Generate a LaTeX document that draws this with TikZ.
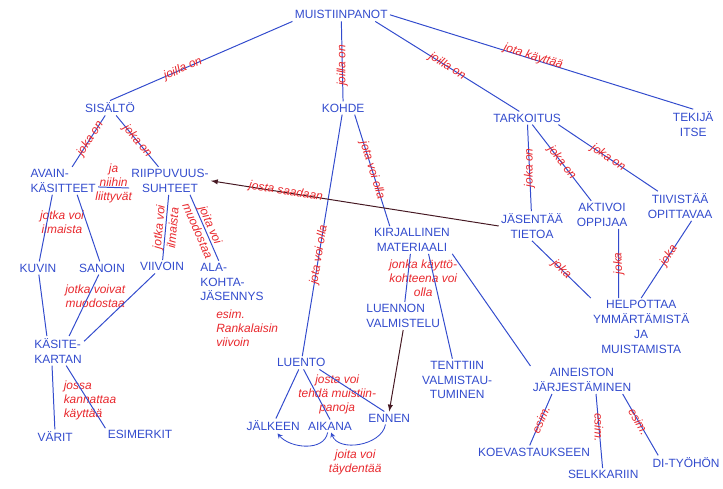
\documentclass[tikz,border=0pt]{standalone}
\usepackage{fontspec}
\setmainfont{Liberation Sans}
\usetikzlibrary{shapes,arrows,positioning}
\definecolor{pen}{RGB}{50,75,205}
\definecolor{punainen}{RGB}{232,40,45}
\definecolor{tumma}{RGB}{70,25,35}
\tikzstyle{cnode} = [text=pen, font=\fontsize{8.5}{10.5}\selectfont, inner sep=1.5pt, align=center]
\tikzstyle{rlabel} = [text=punainen, font=\fontsize{8.5}{10}\selectfont\itshape, inner sep=0.5pt, align=center]
\tikzstyle{line} = [draw, pen, line width=0.7pt]
\tikzstyle{darrow} = [draw, tumma, line width=0.7pt, -latex]
\tikzstyle{carrow} = [draw, pen, line width=0.6pt, -stealth]
\begin{document}
\begin{tikzpicture}
			\useasboundingbox (0,0) rectangle (18.075,12.2);
			\node [cnode] (muist) at (8.53, 11.83) {MUISTIINPANOT};
			\node [cnode] (sisalto) at (2.75, 9.50) {SISÄLTÖ};
			\node [cnode] (kohde) at (8.58, 9.50) {KOHDE};
			\node [cnode] (tark) at (13.18, 9.25) {TARKOITUS};
			\node [cnode] (tekija) at (17.33, 9.10) {TEKIJÄ\\ITSE};
			\node [cnode, align=left] (avain) at (1.58, 7.68) {AVAIN-\\KÄSITTEET};
			\node [cnode] (riipp) at (4.25, 7.68) {RIIPPUVUUS-\\SUHTEET};
			\node [cnode] (kuvin) at (0.95, 5.50) {KUVIN};
			\node [cnode] (sanoin) at (2.55, 5.50) {SANOIN};
			\node [cnode] (viivoin) at (4.05, 5.53) {VIIVOIN};
			\node [cnode, align=left] (ala) at (5.80, 5.15) {ALA-\\KOHTA-\\JÄSENNYS};
			\node [cnode, align=left] (kasite) at (1.45, 3.43) {KÄSITE-\\KARTAN};
			\node [cnode] (varit) at (1.38, 1.28) {VÄRIT};
			\node [cnode] (esimerkit) at (3.50, 1.33) {ESIMERKIT};
			\node [cnode] (luento) at (7.53, 3.13) {LUENTO};
			\node [cnode] (jalkeen) at (6.83, 1.55) {JÄLKEEN};
			\node [cnode] (aikana) at (8.25, 1.55) {AIKANA};
			\node [cnode] (ennen) at (9.73, 1.75) {ENNEN};
			\node [cnode] (kirj) at (10.30, 6.20) {KIRJALLINEN\\MATERIAALI};
			\node [cnode, align=left] (luennon) at (10.08, 4.30) {LUENNON\\VALMISTELU};
			\node [cnode] (tenttiin) at (11.43, 2.70) {TENTTIIN\\VALMISTAU-\\TUMINEN};
			\node [cnode] (aineisto) at (14.55, 2.70) {AINEISTON\\JÄRJESTÄMINEN};
			\node [cnode] (koe) at (13.35, 0.90) {KOEVASTAUKSEEN};
			\node [cnode] (selk) at (15.08, 0.33) {SELKKARIIN};
			\node [cnode, anchor=east] (di) at (18.05, 0.63) {DI-TYÖHÖN};
			\node [cnode] (jasentaa) at (13.30, 6.55) {JÄSENTÄÄ\\TIETOA};
			\node [cnode] (aktivoi) at (15.05, 6.83) {AKTIVOI\\OPPIJAA};
			\node [cnode] (tiivistaa) at (17.00, 7.05) {TIIVISTÄÄ\\OPITTAVAA};
			\node [cnode] (helpottaa) at (16.03, 4.03) {HELPOTTAA\\YMMÄRTÄMISTÄ\\JA\\MUISTAMISTA};

			\node [rlabel] (ilmaista) at (1.55, 6.65) {jotka voi\\ilmaista};
			\node [rlabel] (muodostaa) at (2.38, 4.80) {jotka voivat\\muodostaa};
			\node [rlabel, align=left] (jossa) at (2.25, 2.18) {jossa\\kannattaa\\käyttää};
			\node [rlabel, align=left] (rank) at (6.18, 4.00) {esim.\\Rankalaisin\\viivoin};
			\node [rlabel] (kaytto) at (10.58, 5.25) {jonka käyttö-\\kohteena voi\\olla};
			\node [rlabel] (tehda) at (8.43, 2.33) {josta voi\\tehdä muistiin-\\panoja};
			\node [rlabel] (taydentaa) at (8.88, 0.65) {joita voi\\täydentää};

			\path [line] (muist.south west) -- node [rlabel, sloped, pos=0.6] {joilla on} (sisalto.north);
			\path [line] (muist) -- node [rlabel, rotate=90, pos=0.55] {joilla on} (kohde);
			\path [line] (muist.-11) -- node [rlabel, sloped, pos=0.5] {joilla on} (tark.140);
			\path [line] (muist.east) -- node [rlabel, sloped, pos=0.47, above=-3pt] {jota käyttää} (tekija.north);
			\path [line] (sisalto) -- node [rlabel, sloped, pos=0.45] {joka on} (avain);
			\path [line] (sisalto) -- node [rlabel, sloped] {joka on} (riipp);
			\path [line] (avain.-10) -- node [rlabel, yshift=3pt] {ja\\niihin\\liittyvät} (riipp.190);
			\path [line] (avain.-128) -- (kuvin);
			\path [line] (avain.-45) -- (sanoin);
			\path [line] (riipp) -- node [rlabel, sloped] {jotka voi\\ilmaista} (viivoin);
			\path [line] (riipp.-35) -- node [rlabel, sloped] {joita voi\\muodostaa} (ala.122);
			\path [line] (kuvin) -- (kasite.127);
			\path [line] (sanoin) -- (kasite.53);
			\path [line] (viivoin) -- (kasite.20);
			\path [line] (kasite.-112) -- (varit);
			\path [line] (kasite.-61) -- (esimerkit.north west);
			\path [line] (kohde) -- node [rlabel, sloped, pos=0.58] {jota voi olla} (luento);
			\path [line] (kohde.-30) -- node [rlabel, sloped] {jota voi olla} ([xshift=0.45cm]kirj.north west);
			\path [line] (luento.-110) -- (jalkeen.70);
			\path [line] (luento.-70) -- (aikana.north);
			\path [line] (luento.-20) -- (ennen.127);
			\path [carrow] (ennen.-120) to [out=-100, in=-70] (aikana.-80);
			\path [carrow] (aikana.-110) to [out=-100, in=-50] (jalkeen.-60);
			\path [line] (kirj) -- (luennon);
			\path [line] (kirj.-40) -- (tenttiin);
			\path [line] (kirj.south east) -- (aineisto.north west);
			\path [darrow] (luennon.south) -- (ennen.north);
			\path [line] (aineisto.-155) -- node [rlabel, sloped] {esim.} (koe.123);
			\path [line] (aineisto.-45) -- node [rlabel, rotate=-90, pos=0.45] {esim.} (selk);
			\path [line] (aineisto.-19) -- node [rlabel, sloped, pos=0.45] {esim.} ([xshift=0.2cm]di.north west);
			\path [line] (tark) -- node [rlabel, rotate=90] {joka on} (jasentaa);
			\path [line] (tark) -- node [rlabel, sloped] {joka on} (aktivoi);
			\path [line] (tark.-12) -- node [rlabel, sloped] {joka on} (tiivistaa);
			\path [line] (jasentaa.south) -- node [rlabel, sloped] {joka} (helpottaa.north west);
			\path [line] (aktivoi.-40) -- node [rlabel, rotate=92] {joka} (helpottaa.128);
			\path [line] (tiivistaa.-52) -- node [rlabel, sloped, pos=0.45] {joka} (helpottaa.north);
			\path [darrow] (jasentaa.west) -- node [rlabel, sloped, pos=0.74, above=-4pt] {josta saadaan} (riipp.east);
		\end{tikzpicture}
\end{document}
